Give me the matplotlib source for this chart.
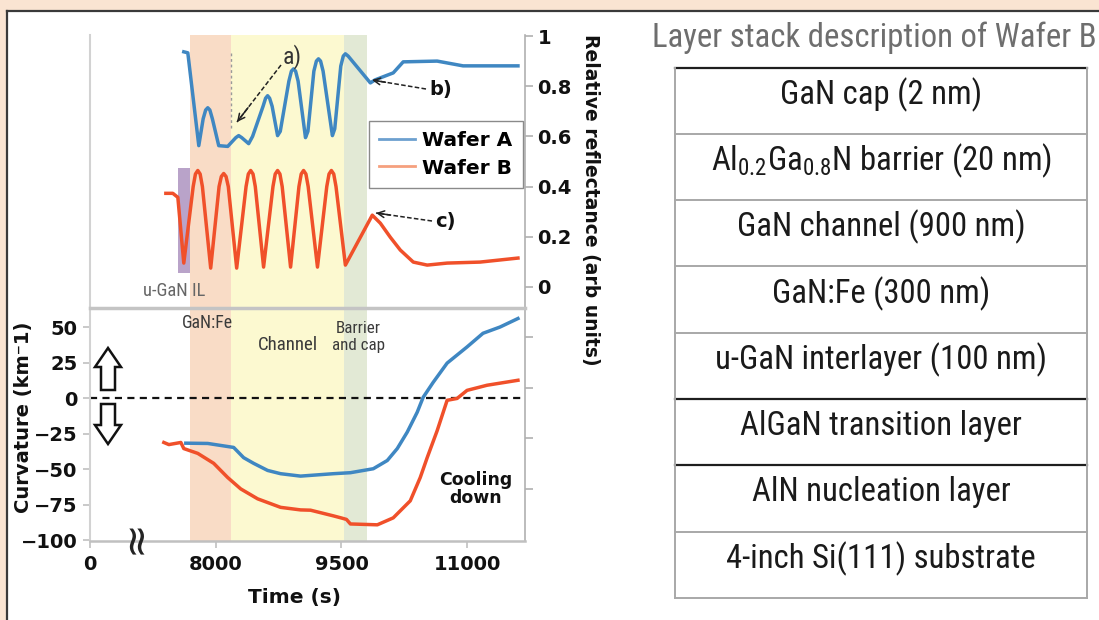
import os
import matplotlib
matplotlib.use('Agg')
import matplotlib.pyplot as plt
from matplotlib.patches import Polygon, Rectangle
from matplotlib.lines import Line2D
from matplotlib import font_manager as fm
from matplotlib.font_manager import FontProperties

# ---------------- data ----------------
# Reflectance, Wafer A (time s, relative reflectance)
refl_A_time = [7619, 7667, 7798, 7850, 7880, 7905, 7930, 7960, 8036, 8143, 8240, 8274, 8310, 8393,
               8440, 8565, 8595, 8619, 8643, 8673, 8738, 8770, 8873, 8903, 8928, 8953, 8983,
               9071, 9100, 9171, 9201, 9226, 9251, 9281, 9392, 9420, 9492, 9522, 9547, 9580,
               9845, 9900, 10118, 10237, 10642, 10951, 11356, 11606]
refl_A_val = [0.937, 0.933, 0.563, 0.67, 0.705, 0.714, 0.705, 0.67, 0.563, 0.56, 0.595, 0.603, 0.595, 0.571,
              0.60, 0.72, 0.752, 0.762, 0.752, 0.72, 0.603, 0.62, 0.82, 0.86, 0.869, 0.86, 0.82,
              0.595, 0.62, 0.86, 0.90, 0.909, 0.90, 0.86, 0.603, 0.63, 0.88, 0.92, 0.929, 0.92,
              0.813, 0.825, 0.853, 0.897, 0.90, 0.881, 0.881, 0.881]
# Reflectance, Wafer B
refl_B_time = [7405, 7488, 7548, 7619, 7731, 7758, 7786, 7814, 7841, 7940, 8040, 8067, 8095, 8123, 8150,
               8250, 8362, 8389, 8417, 8445, 8472, 8571, 8683, 8710, 8738, 8766, 8793, 8893,
               8993, 9020, 9048, 9076, 9103, 9214, 9325, 9352, 9380, 9408, 9435, 9547,
               9868, 9964, 10083, 10202, 10357, 10523, 10761, 11154, 11606]
refl_B_val = [0.373, 0.373, 0.357, 0.095, 0.40, 0.45, 0.464, 0.45, 0.40, 0.075, 0.40, 0.44, 0.452, 0.44, 0.40,
              0.075, 0.40, 0.45, 0.464, 0.45, 0.40, 0.079, 0.40, 0.45, 0.464, 0.45, 0.40, 0.079,
              0.40, 0.45, 0.464, 0.45, 0.40, 0.079, 0.40, 0.45, 0.464, 0.45, 0.40, 0.087,
              0.286, 0.254, 0.198, 0.147, 0.099, 0.087, 0.095, 0.099, 0.115]
# Curvature (km^-1)
curv_A_time = [7643, 7905, 8214, 8333, 8452, 8619, 8774, 9012, 9404, 9607, 9880, 10047, 10166,
               10285, 10404, 10475, 10594, 10761, 10999, 11189, 11392, 11606]
curv_A_val = [-31.8, -32, -34.8, -42, -46, -51, -53.3, -55, -53.3, -52.6, -49.8, -44, -35.6,
              -24, -10, 0.5, 11, 24.6, 36, 45.6, 50, 56]
curv_B_time = [7381, 7441, 7584, 7619, 7786, 7976, 8143, 8298, 8500, 8774, 9012, 9131, 9404, 9500,
               9560, 9607, 9928, 10118, 10321, 10440, 10523, 10642, 10761, 10880, 10999, 11237, 11606]
curv_B_val = [-31.3, -32.8, -31.3, -35.6, -39, -46, -56, -64, -71, -77, -78.8, -79, -83, -84.5,
              -85.5, -88.7, -89.3, -84.4, -72.4, -56, -42, -23, -1.6, -0.3, 5.4, 9, 12.5]

# growth phases (time s)
phase_uGaN = (7548, 7690)
phase_GaNFe = (7690, 8179)
phase_channel = (8179, 9536)
phase_barrier = (9536, 9810)

x_ticks = [6500, 8000, 9500, 11000]
x_ticklabels = ['0', '8000', '9500', '11000']
curv_ticks = [50, 25, 0, -25, -50, -75, -100]
curv_ticklabels = ['50', '25', '0', '\u221225', '\u221250', '\u221275', '\u2212100']
refl_ticks = [0, 0.2, 0.4, 0.6, 0.8, 1]
refl_ticklabels = ['0', '0.2', '0.4', '0.6', '0.8', '1']

layers = ['GaN cap (2 nm)',
          r'Al$_\mathregular{0.2}$Ga$_\mathregular{0.8}$N barrier (20 nm)',
          'GaN channel (900 nm)',
          'GaN:Fe (300 nm)',
          'u-GaN interlayer (100 nm)',
          'AlGaN transition layer',
          'AlN nucleation layer',
          '4-inch Si(111) substrate']
layer_widths_px = [205, 329, 292, 220, 334, 277, 257, 311]
layer_line_dark = [True, False, False, False, False, True, True, False, False]

# ---------------- fonts ----------------
files = [f.fname for f in fm.fontManager.ttflist]
narrow_path = None
for key in ['LiberationSansNarrow-Regular', 'RobotoCondensed-Regular', 'DejaVuSansCondensed.ttf',
            'NotoSans-CondensedRegular', 'NotoSans-Condensed.', 'OpenSans_Condensed-Regular',
            'OpenSans-CondensedRegular', 'OpenSansCondensed-Regular']:
    for fn in files:
        if key in os.path.basename(fn):
            narrow_path = fn
            break
    if narrow_path:
        break
if narrow_path is None:
    for fn in files:
        b = os.path.basename(fn)
        if ('Condensed' in b or 'Narrow' in b) and not any(k in b for k in ('Bold', 'Italic', 'Oblique', 'Light', 'Thin', 'Black', 'Medium', 'Semi', 'Extra')):
            narrow_path = fn
            break


def narrow(size):
    if narrow_path:
        fp = FontProperties(fname=narrow_path)
    else:
        fp = FontProperties(family='Liberation Sans')
    fp.set_size(size)
    return fp


BOLD = 'DejaVu Sans'

W, H = 1099, 620
fig = plt.figure(figsize=(W / 100, H / 100), dpi=100)
fig.patch.set_facecolor('#fae4d2')


def fx(x):
    return x / W


def fy(y):
    return 1 - y / H


# white panel with dark border
fig.add_artist(Rectangle((fx(7), 0), 1, fy(11), transform=fig.transFigure,
                         facecolor='white', edgecolor='none', zorder=-5))
fig.add_artist(Line2D([fx(7), 1], [fy(11), fy(11)], transform=fig.transFigure,
                      color='#3a3a3a', lw=1.6, zorder=-4))
fig.add_artist(Line2D([fx(7), fx(7)], [0, fy(11)], transform=fig.transFigure,
                      color='#3a3a3a', lw=1.6, zorder=-4))

XL, XR = 90, 525
ax_top = fig.add_axes([fx(XL), fy(308), (XR - XL) / W, (308 - 35) / H])
ax_bot = fig.add_axes([fx(XL), fy(541), (XR - XL) / W, (541 - 308) / H])

xlim = (6500, 11690)
for ax in (ax_top, ax_bot):
    ax.set_xlim(*xlim)
    ax.set_facecolor('none')
    ax.axvspan(*phase_GaNFe, color='#f9dcc6', lw=0, zorder=0)
    ax.axvspan(*phase_channel, color='#fcf9d0', lw=0, zorder=0)
    ax.axvspan(*phase_barrier, color='#e2e9d5', lw=0, zorder=0)

# ---- top: reflectance ----
ax_top.set_ylim(-0.084, 1.004)
ax_top.add_patch(Rectangle((phase_uGaN[0], 0.056), phase_uGaN[1] - phase_uGaN[0], 0.416,
                           facecolor='#b9a3c9', edgecolor='none', zorder=1))
ax_top.plot([phase_channel[0]] * 2, [0.635, 0.932], ls=(0, (2, 2)), color='#9a9a9a', lw=1, zorder=2)
ax_top.plot(refl_A_time, refl_A_val, color='#3f87c2', lw=2.5, zorder=3)
ax_top.plot(refl_B_time, refl_B_val, color='#f0502a', lw=2.5, zorder=3)
for s in ('top', 'bottom'):
    ax_top.spines[s].set_visible(False)
ax_top.spines['left'].set_color('#d2d2d2')
ax_top.spines['left'].set_linewidth(1.5)
ax_top.spines['right'].set_color('#b0b0b0')
ax_top.spines['right'].set_linewidth(1.2)
ax_top.set_xticks([])
ax_top.yaxis.tick_right()
ax_top.set_yticks(refl_ticks)
ax_top.set_yticklabels(refl_ticklabels, fontfamily=BOLD, fontweight='bold', fontsize=14)
ax_top.tick_params(axis='y', which='both', left=False, right=True, length=6, width=1.2,
                   color='#b0b0b0', pad=3, labelcolor='#111111')

leg_handles = [Line2D([], [], color='#6da0cf', lw=2), Line2D([], [], color='#f5a07e', lw=2)]
leg = ax_top.legend(leg_handles, ['Wafer A', 'Wafer B'], loc='upper left',
                    bbox_to_anchor=((369 - XL) / (XR - XL), (308 - 121) / 273),
                    borderaxespad=0, fancybox=False, framealpha=1, edgecolor='#8a8a8a',
                    prop={'family': BOLD, 'weight': 'bold', 'size': 14.5},
                    handlelength=1.8, handletextpad=0.35, borderpad=0.5, labelspacing=0.42)
leg.get_frame().set_linewidth(1.0)
leg.set_zorder(5)

# ---- bottom: curvature ----
ax_bot.set_ylim(-100.7, 63.4)
ax_bot.axhline(0, color='#111111', ls=(0, (3.2, 2.4)), lw=1.6, zorder=2)
ax_bot.plot(curv_A_time, curv_A_val, color='#3f87c2', lw=2.5, zorder=3)
ax_bot.plot(curv_B_time, curv_B_val, color='#f0502a', lw=2.5, zorder=3)
ax_bot.spines['top'].set_color('#c4c4c4')
ax_bot.spines['top'].set_linewidth(2.5)
ax_bot.spines['left'].set_color('#d2d2d2')
ax_bot.spines['left'].set_linewidth(1.5)
ax_bot.spines['bottom'].set_color('#c0c0c0')
ax_bot.spines['bottom'].set_linewidth(1.8)
ax_bot.spines['right'].set_color('#b0b0b0')
ax_bot.spines['right'].set_linewidth(1.2)
ax_bot.set_yticks(curv_ticks)
ax_bot.set_yticklabels(curv_ticklabels, fontfamily=BOLD, fontweight='bold', fontsize=14)
ax_bot.set_xticks(x_ticks)
ax_bot.set_xticklabels(x_ticklabels, fontfamily=BOLD, fontweight='bold', fontsize=14)
ax_bot.tick_params(axis='both', length=5, width=1.2, color='#c0c0c0', labelcolor='#111111')
ax_bot.tick_params(axis='x', pad=5)
ax_bot.tick_params(axis='y', pad=4)
ax_r = ax_bot.twinx()
ax_r.set_ylim(-1.008, -0.0833)
ax_r.set_yticks([-0.2, -0.4, -0.6, -0.8])
ax_r.set_yticklabels([])
ax_r.tick_params(axis='y', length=6, width=1.2, color='#b0b0b0')
for s in ('top', 'bottom', 'left', 'right'):
    ax_r.spines[s].set_visible(False)

# axis titles
fig.text(fx(295), fy(598), 'Time (s)', ha='center', va='center', fontfamily=BOLD,
         fontweight='bold', fontsize=14.5, color='#111111')
fig.text(fx(24), fy(417), 'Curvature (km\u207b1)', ha='center', va='center', rotation=90,
         fontfamily=BOLD, fontweight='bold', fontsize=14, color='#111111')
fig.text(fx(591), fy(200), 'Relative reflectance (arb units)', ha='center', va='center',
         rotation=-90, fontfamily=BOLD, fontweight='bold', fontsize=13.5, color='#111111')

# region labels (narrow font, fitted to reference widths below)
gray_txt = '#3a3a3a'
fit_items = []
t = fig.text(fx(174), fy(291), 'u-GaN IL', ha='center', va='center', fontproperties=narrow(11),
             color='#666666')
fit_items.append((t, 62))
t = fig.text(fx(207), fy(323), 'GaN:Fe', ha='center', va='center', fontproperties=narrow(11.5),
             color=gray_txt)
fit_items.append((t, 51))
t = fig.text(fx(288), fy(345), 'Channel', ha='center', va='center', fontproperties=narrow(11.5),
             color=gray_txt)
fit_items.append((t, 60))
t = fig.text(fx(358), fy(337), 'Barrier\nand cap', ha='center', va='center', fontproperties=narrow(11.5),
             color=gray_txt, linespacing=1.15)
fit_items.append((t, 53))
fig.text(fx(476), fy(489), 'Cooling\ndown', ha='center', va='center', fontfamily=BOLD,
         fontweight='bold', fontsize=12.5, color='#111111', linespacing=0.95)
# axis-break mark
fig.text(fx(135), fy(537), '\u2248', ha='center', va='center', rotation=90,
         fontfamily='DejaVu Sans', fontsize=30, color='#222222')


# annotation arrows (figure pixels)
def dashed_arrow(tail, head):
    fig.add_artist(Line2D([fx(tail[0]), fx(head[0])], [fy(tail[1]), fy(head[1])],
                          transform=fig.transFigure, color='#222222', lw=1.1,
                          ls=(0, (3, 1.5))))
    ax_top.annotate('', xy=(head[0], H - head[1]), xycoords='figure pixels',
                    xytext=(head[0] + (tail[0] - head[0]) * 0.25,
                            H - (head[1] + (tail[1] - head[1]) * 0.25)),
                    textcoords='figure pixels',
                    arrowprops=dict(arrowstyle='->', color='#222222', lw=1.1,
                                    shrinkA=0, shrinkB=0, mutation_scale=12))


dashed_arrow((281, 65), (237, 122))
dashed_arrow((426, 89), (372, 80))
dashed_arrow((432, 221), (376, 213))
t = fig.text(fx(292), fy(57), 'a)', ha='center', va='center', fontproperties=narrow(16),
             color='#333333')
fit_items.append((t, 19))
fig.text(fx(441), fy(90), 'b)', ha='center', va='center', fontfamily=BOLD, fontweight='bold',
         fontsize=14, color='#111111')
fig.text(fx(445), fy(221), 'c)', ha='center', va='center', fontfamily=BOLD, fontweight='bold',
         fontsize=14, color='#111111')


# big outline arrows
def outline_arrow(cx, tip, base, end):
    hw, sw = 13, 7
    pts = [(cx, tip), (cx + hw, base), (cx + sw, base), (cx + sw, end),
           (cx - sw, end), (cx - sw, base), (cx - hw, base)]
    fig.add_artist(Polygon([(fx(x), fy(y)) for x, y in pts], closed=True,
                           transform=fig.transFigure, facecolor='white',
                           edgecolor='#111111', lw=1.8, zorder=6))


outline_arrow(108, 348, 367, 390)
outline_arrow(108, 444, 425, 404)

# ---------------- table ----------------
title = fig.text(fx(652), fy(38), 'Layer stack description of Wafer B', ha='left', va='center',
                 fontproperties=narrow(22), color='#6e6e6e')
TL, TR = 675, 1087
row_edges = [68, 134, 200, 266, 333, 399, 465, 532, 598]
for i, yy in enumerate(row_edges):
    dark = layer_line_dark[i]
    fig.add_artist(Line2D([fx(TL), fx(TR)], [fy(yy), fy(yy)], transform=fig.transFigure,
                          color='#1e1e1e' if dark else '#a8a8a8', lw=1.6 if dark else 1.4))
for xx in (TL, TR):
    fig.add_artist(Line2D([fx(xx), fx(xx)], [fy(row_edges[0]), fy(row_edges[-1])],
                          transform=fig.transFigure, color='#a8a8a8', lw=1.4))
row_texts = []
for i, txt in enumerate(layers):
    yc = (row_edges[i] + row_edges[i + 1]) / 2 - 6
    row_texts.append(fig.text(fx((TL + TR) / 2), fy(yc), txt, ha='center', va='center',
                              fontproperties=narrow(21), color='#1a1a1a'))

# ---- fit narrow-font texts to the widths measured on the reference ----
fig.canvas.draw()
rend = fig.canvas.get_renderer()
for t, target in fit_items:
    w = t.get_window_extent(rend).width
    t.set_fontsize(t.get_fontsize() * target / w)
w = title.get_window_extent(rend).width
title.set_fontsize(title.get_fontsize() * 443 / w)
scales = [tw / t.get_window_extent(rend).width for t, tw in zip(row_texts, layer_widths_px)]
s = sum(scales) / len(scales)
for t in row_texts:
    t.set_fontsize(t.get_fontsize() * s)

fig.savefig('out.png', dpi=100, facecolor=fig.get_facecolor())
